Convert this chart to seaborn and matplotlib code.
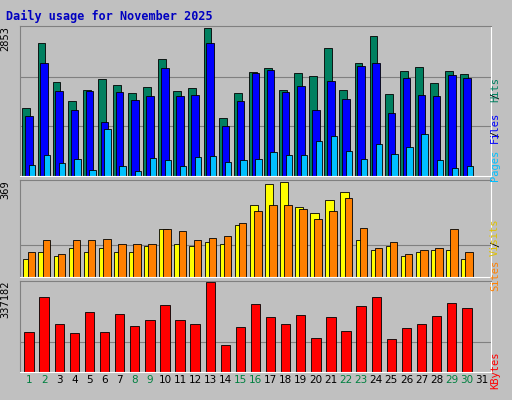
import matplotlib
matplotlib.use("Agg")
import matplotlib.pyplot as plt
import seaborn as sns
import pandas as pd
import numpy as np

days = list(range(1, 31))
day_labels = [str(d) for d in range(1, 32)]
weekend = [1, 2, 8, 9, 15, 16, 22, 23, 29, 30]
hits = [1311,2564,1812,1446,1658,1870,1754,1600,1716,2255,1639,1696,2834,1118,1600,
        2005,2082,1658,1986,1928,2467,1658,2178,2680,1581,2024,2101,1793,2024,1966]
files = [1157,2178,1639,1272,1639,1041,1619,1465,1542,2082,1542,1561,2564,964,1446,
         1986,2043,1619,1735,1272,1831,1484,2120,2178,1214,1889,1561,1542,1947,1889]
pages = [212,405,250,328,116,906,193,96,347,308,193,366,385,270,308,
         328,463,405,405,675,771,482,328,617,424,559,810,308,154,193]
visits = [71,95,79,111,95,111,95,95,119,183,127,119,135,127,198,
          278,357,365,270,246,294,325,143,103,119,79,95,103,103,71]
sites = [95,143,87,143,143,147,127,127,127,183,175,143,151,159,206,
         254,278,278,262,222,254,302,190,111,135,87,103,111,183,95]
kbytes = [151000,279000,178000,147000,225000,151000,217000,174000,194000,252000,
          194000,178000,337182,101000,167000,256000,205000,178000,213000,128000,
          205000,155000,248000,279000,124000,163000,178000,209000,260000,240000]
max_hits, max_visits, max_kb = 2853, 369, 337182

sns.set_style("white")
BG = "#C0C0C0"
fig = plt.figure(figsize=(5.12, 4.0), dpi=100)
fig.patch.set_facecolor(BG)
W, H = 512, 400
MONO = "DejaVu Sans Mono"

def box(t, b, l=20, r=491):
    return [l / W, 1 - b / H, (r - l) / W, (b - t) / H]

def mk(rect, ymax):
    ax = fig.add_axes(rect)
    ax.set_facecolor(BG)
    for s in ax.spines.values():
        s.set_color("#808080")
    ax.spines["bottom"].set_color("white"); ax.spines["right"].set_color("white")
    return ax

def bars(ax, vals, off, width, color):
    df = pd.DataFrame({"x": np.array(days) + off, "y": vals})
    sns.barplot(data=df, x="x", y="y", native_scale=True, width=width,
                color=color, saturation=1, edgecolor="black", linewidth=0.6, ax=ax)

ax1 = mk(box(26, 176), max_hits)
for f in (1/3, 2/3):
    ax1.axhline(max_hits * f, color="#808080", lw=0.8, zorder=0)
bars(ax1, hits, -0.18, 0.52, "#008060")
bars(ax1, files, 0.0, 0.5, "#0000FF")
bars(ax1, pages, 0.2, 0.42, "#00C0FF")
ax1.set_ylim(0, max_hits * 1.01)

ax2 = mk(box(180, 277), max_visits)
ax2.axhline(max_visits / 3, color="#808080", lw=0.8, zorder=0)
bars(ax2, visits, -0.1, 0.55, "#FFFF00")
bars(ax2, sites, 0.15, 0.5, "#FF8000")
ax2.set_ylim(0, max_visits * 1.01)

ax3 = mk(box(281, 372), max_kb)
ax3.axhline(max_kb / 3, color="#808080", lw=0.8, zorder=0)
bars(ax3, kbytes, 0.0, 0.62, "#FF0000")
ax3.set_ylim(0, max_kb * 1.01)

for ax in (ax1, ax2, ax3):
    ax.set_xlim(0.4, 31.6)
    ax.set_xticks([]); ax.set_yticks([]); ax.set_xlabel(""); ax.set_ylabel("")

fig.text(6 / W, 1 - 16 / H, "Daily usage for November 2025", color="#0000C0",
         family=MONO, weight="bold", fontsize=8.5, va="center")

for ax, lab in ((ax1, "2853"), (ax2, "369"), (ax3, "337182")):
    ax.text(-0.02, 1.0, lab, transform=ax.transAxes, rotation=90, ha="right",
            va="top", family=MONO, fontsize=7.5, color="black")

for i, lab in enumerate(day_labels):
    d = i + 1
    ax3.text(d, -0.03, lab, transform=ax3.get_xaxis_transform(), ha="center",
             va="top", fontsize=7.5, color="#008040" if d in weekend else "black")

FS = 7.5
CH = 0.602 * FS * 100 / 72  # monospace advance in px

def side(parts, ybot):
    y = ybot
    for txt, col in parts:
        fig.text(500 / W, 1 - y / H, txt, rotation=90, color=col, family=MONO,
                 fontsize=FS, ha="center", va="bottom", rotation_mode="anchor")
        y -= len(txt) * CH

side([("Pages", "#00C0FF"), ("/", "black"), ("Files", "#0000FF"), ("/", "black"), ("Hits", "#008060")], 165)
side([("Sites", "#FF8000"), ("/", "black"), ("Visits", "#E0C000")], 275)
side([("KBytes", "#FF0000")], 370)

fig.savefig("out.png", dpi=100, facecolor=BG)
